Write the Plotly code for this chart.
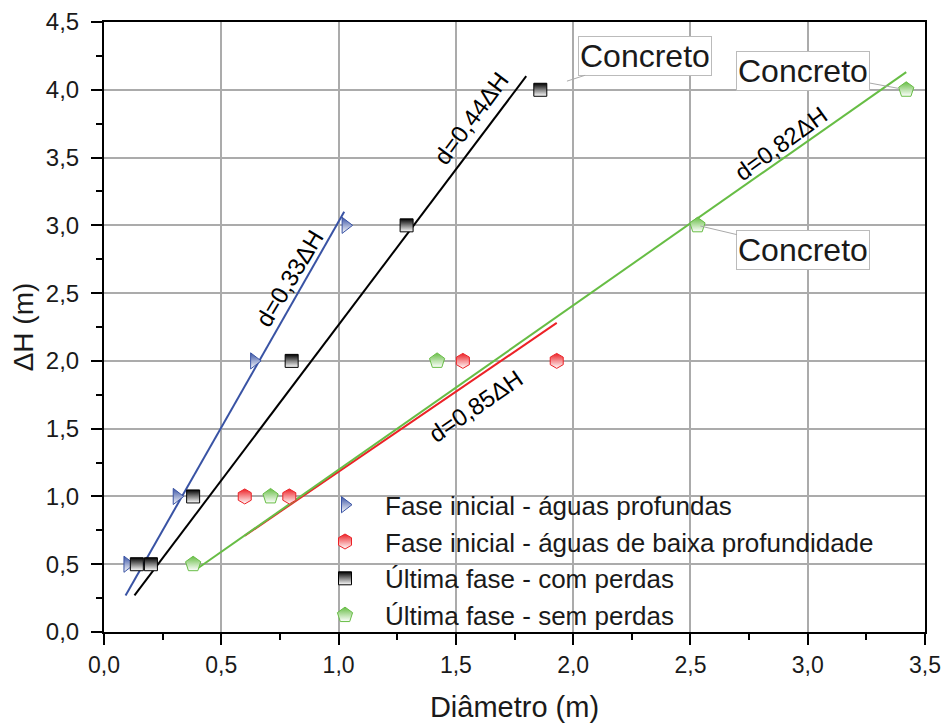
import plotly.graph_objects as go

# ---- data ----
blue_name = "Fase inicial - águas profundas"
blue_x = [0.10, 0.31, 0.64, 1.03]
blue_y = [0.5, 1.0, 2.0, 3.0]

red_name = "Fase inicial - águas de baixa profundidade"
red_x = [0.60, 0.79, 1.53, 1.93]
red_y = [1.0, 1.0, 2.0, 2.0]

black_name = "Última fase - com perdas"
black_x = [0.14, 0.20, 0.38, 0.80, 1.29, 1.86]
black_y = [0.5, 0.5, 1.0, 2.0, 3.0, 4.0]

green_name = "Última fase - sem perdas"
green_x = [0.38, 0.71, 1.42, 2.53, 3.42]
green_y = [0.5, 1.0, 2.0, 3.0, 4.0]

# fitted lines (endpoints)
blue_fit_x = [0.092, 1.024]
blue_fit_y = [0.27, 3.10]
black_fit_x = [0.13, 1.80]
black_fit_y = [0.27, 4.10]
red_fit_x = [0.60, 1.93]
red_fit_y = [0.71, 2.28]
green_fit_x = [0.40, 3.42]
green_fit_y = [0.47, 4.13]

fit_labels = ["d=0,33ΔH", "d=0,44ΔH", "d=0,82ΔH", "d=0,85ΔH"]
fit_label_x = [0.79, 1.565, 2.886, 1.582]
fit_label_y = [2.607, 3.785, 3.605, 1.664]
fit_label_angle = [-59, -53.5, -36, -34.5]

concreto_text = "Concreto"
concreto_x = [1.86, 3.42, 2.53]
concreto_y = [4.0, 4.0, 3.0]
concreto_ax = [105, -103, 106]
concreto_ay = [-34, -19, 25]
concreto_standoff = [28, 8, 3]

BLUE = "#3953A4"
RED = "#EC2227"
BLACK = "#000000"
GREEN = "#67BD45"
FONT = "Arial, Liberation Sans, sans-serif"

fig = go.Figure()

# fit lines (not in legend)
for fx, fy, c in [(blue_fit_x, blue_fit_y, BLUE), (black_fit_x, black_fit_y, BLACK),
                  (red_fit_x, red_fit_y, RED), (green_fit_x, green_fit_y, GREEN)]:
    fig.add_trace(go.Scatter(x=fx, y=fy, mode="lines", line=dict(color=c, width=2),
                             showlegend=False, hoverinfo="skip"))

def marker(color, symbol, size):
    return dict(color=color, symbol=symbol, size=size,
                line=dict(color=color, width=1),
                gradient=dict(type="vertical", color="white"))

fig.add_trace(go.Scatter(x=blue_x, y=blue_y, mode="markers", name=blue_name,
                         marker=marker(BLUE, "triangle-right", 14)))
fig.add_trace(go.Scatter(x=red_x, y=red_y, mode="markers", name=red_name,
                         marker=marker(RED, "hexagon", 15)))
fig.add_trace(go.Scatter(x=black_x, y=black_y, mode="markers", name=black_name,
                         marker=marker(BLACK, "square", 13)))
fig.add_trace(go.Scatter(x=green_x, y=green_y, mode="markers", name=green_name,
                         marker=marker(GREEN, "pentagon", 16)))

annotations = []
for t, x, y, a in zip(fit_labels, fit_label_x, fit_label_y, fit_label_angle):
    annotations.append(dict(x=x, y=y, xref="x", yref="y", text=t, showarrow=False,
                            textangle=a, font=dict(family=FONT, size=24, color="black")))
for x, y, ax, ay, so in zip(concreto_x, concreto_y, concreto_ax, concreto_ay, concreto_standoff):
    annotations.append(dict(x=x, y=y, xref="x", yref="y", text=concreto_text,
                            showarrow=True, arrowhead=0, arrowwidth=1, arrowcolor="#aaaaaa",
                            ax=ax, ay=ay, standoff=so,
                            bgcolor="white", bordercolor="#bbbbbb", borderwidth=1, borderpad=1,
                            font=dict(family=FONT, size=32, color="#1a1a1a")))

axis_common = dict(
    showline=True, linecolor="black", linewidth=2, mirror=True,
    showgrid=True, gridcolor="#ababab", gridwidth=1.5,
    ticks="outside", ticklen=11, tickwidth=2, tickcolor="black",
    tickformat=".1f", zeroline=False, automargin=False,
    minor=dict(ticks="outside", ticklen=6, tickwidth=2, tickcolor="black", dtick=0.25, showgrid=False),
)

fig.update_xaxes(range=[0, 3.5], dtick=0.5, tick0=0,
                 tickfont=dict(family=FONT, size=23, color="#1a1a1a"),
                 ticklabelstandoff=0,
                 title=dict(text="Diâmetro (m)", font=dict(family=FONT, size=29, color="#1a1a1a"),
                            standoff=20),
                 **axis_common)
fig.update_yaxes(range=[0, 4.5], dtick=0.5, tick0=0,
                 tickfont=dict(family=FONT, size=24, color="#1a1a1a"),
                 ticklabelstandoff=7,
                 title=dict(text="ΔH (m)", font=dict(family=FONT, size=28, color="#1a1a1a"),
                            standoff=4),
                 **axis_common)

# white box behind the legend hiding the gridlines there
fig.add_shape(type="rect", xref="paper", yref="paper",
              x0=(333 - 104) / 821, x1=(893 - 104) / 821,
              y0=0, y1=(631.7 - 490) / 610,
              fillcolor="white", line=dict(width=0), layer="between")

fig.update_layout(
    width=945, height=726,
    margin=dict(l=104, r=20, t=22, b=94),
    paper_bgcolor="white", plot_bgcolor="white",
    separators=", ",
    font=dict(family=FONT, color="#1a1a1a"),
    annotations=annotations,
    legend=dict(x=(305 - 104) / 821, y=(631.7 - 481) / 610, xanchor="left", yanchor="top",
                bgcolor="rgba(0,0,0,0)", borderwidth=0,
                font=dict(family=FONT, size=26, color="#1a1a1a"),
                tracegroupgap=0, itemwidth=70),
    showlegend=True,
)

fig.write_html("out.html", config={"displayModeBar": False},
               post_script="document.body.style.margin='0px';")
